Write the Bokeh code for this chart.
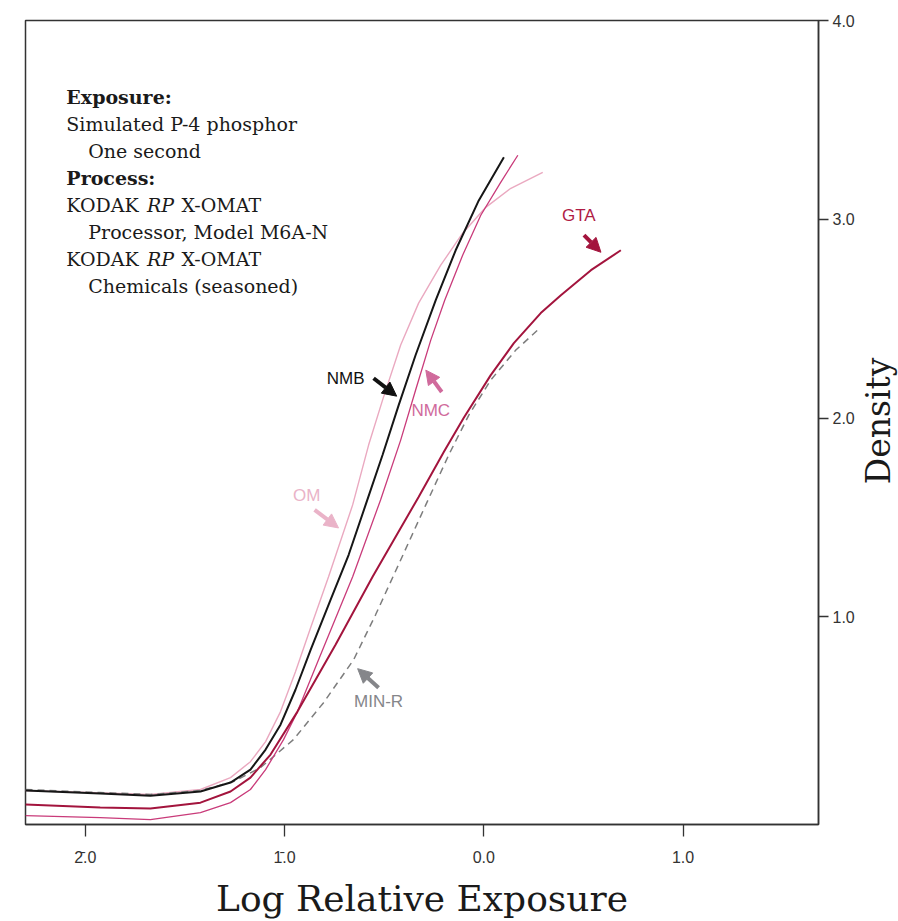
from bokeh.plotting import figure
from bokeh.layouts import row
from bokeh.models import Range1d, FixedTicker, Label, Arrow, NormalHead
from bokeh.embed import file_html
from bokeh.resources import INLINE

# ---- data (log relative exposure, density) ----
nmb_x = [-2.30, -1.925, -1.673, -1.422, -1.271, -1.171, -1.095, -1.020, -0.945, -0.869,
         -0.769, -0.678, -0.593, -0.508, -0.427, -0.342, -0.241, -0.141, -0.025, 0.101]
nmb_y = [0.126, 0.111, 0.100, 0.121, 0.166, 0.231, 0.332, 0.457, 0.633, 0.834,
         1.085, 1.312, 1.563, 1.814, 2.065, 2.317, 2.593, 2.844, 3.095, 3.312]

nmc_x = [-2.30, -1.925, -1.673, -1.422, -1.271, -1.171, -1.095, -1.005, -0.935, -0.819,
         -0.658, -0.518, -0.417, -0.342, -0.266, -0.196, -0.106, -0.015, 0.085, 0.171]
nmc_y = [0.000, -0.010, -0.020, 0.015, 0.065, 0.131, 0.231, 0.382, 0.523, 0.809,
         1.201, 1.588, 1.889, 2.141, 2.392, 2.593, 2.819, 3.020, 3.186, 3.322]

om_x = [-2.30, -1.673, -1.422, -1.271, -1.171, -1.095, -1.020, -0.945, -0.869, -0.779,
        -0.658, -0.578, -0.508, -0.417, -0.327, -0.216, -0.106, 0.010, 0.136, 0.296]
om_y = [0.126, 0.106, 0.131, 0.191, 0.271, 0.372, 0.523, 0.724, 0.945, 1.201,
        1.563, 1.864, 2.090, 2.367, 2.578, 2.769, 2.930, 3.060, 3.156, 3.236]

gta_x = [-2.30, -1.925, -1.673, -1.422, -1.271, -1.171, -1.070, -0.935, -0.744, -0.558,
         -0.327, -0.200, -0.101, 0.035, 0.151, 0.286, 0.387, 0.538, 0.688]
gta_y = [0.055, 0.040, 0.035, 0.065, 0.121, 0.191, 0.307, 0.523, 0.859, 1.201,
         1.603, 1.830, 2.000, 2.216, 2.377, 2.528, 2.618, 2.744, 2.844]

minr_x = [-2.30, -1.925, -1.673, -1.422, -1.256, -1.121, -0.955, -0.804, -0.653, -0.543,
          -0.417, -0.291, -0.176, -0.075, 0.035, 0.161, 0.286]
minr_y = [0.131, 0.116, 0.106, 0.126, 0.171, 0.241, 0.382, 0.568, 0.784, 1.010,
          1.286, 1.563, 1.814, 2.015, 2.191, 2.342, 2.457]

x_ticks = [-2, -1, 0, 1]
x_tick_labels = ["2\u0304.0", "1\u0304.0", "0.0", "1.0"]
y_ticks = [1, 2, 3, 4]
y_tick_labels = ["1.0", "2.0", "3.0", "4.0"]

info_lines = [
    ("Exposure:", "bold", 0),
    ("Simulated P-4 phosphor", "normal", 0),
    ("One second", "normal", 1),
    ("Process:", "bold", 0),
    (None, "normal", 0),
    ("Processor, Model M6A-N", "normal", 1),
    (None, "normal", 0),
    ("Chemicals (seasoned)", "normal", 1),
]

SERIF = "DejaVu Serif"
SANS = "Liberation Sans"
AXC = "#333333"

p = figure(width=858, height=921, output_backend="svg", toolbar_location=None,
           x_range=Range1d(-2.30, 1.68), y_range=Range1d(-0.045, 4.0),
           y_axis_location="right",
           min_border_left=25, min_border_top=20, min_border_right=40, min_border_bottom=96)
p.grid.visible = False
p.outline_line_color = AXC
p.outline_line_width = 1.5
p.background_fill_color = "white"
p.border_fill_color = "white"

# x axis
xa = p.xaxis[0]
xa.ticker = FixedTicker(ticks=x_ticks)
xa.major_label_overrides = {t: l for t, l in zip(x_ticks, x_tick_labels)}
xa.axis_line_color = AXC
xa.axis_line_width = 1.5
xa.major_tick_line_color = AXC
xa.major_tick_line_width = 1.3
xa.major_tick_in = 0
xa.major_tick_out = 12
xa.minor_tick_line_color = None
xa.major_label_text_font = SANS
xa.major_label_text_font_size = "16px"
xa.major_label_text_color = "#333333"
xa.major_label_standoff = 12
xa.axis_label = "Log Relative Exposure"
xa.axis_label_text_font = SERIF
xa.axis_label_text_font_size = "36px"
xa.axis_label_text_font_style = "normal"
xa.axis_label_text_color = "#1a1a1a"
xa.axis_label_standoff = 9

# y axis (right)
ya = p.yaxis[0]
ya.ticker = FixedTicker(ticks=y_ticks)
ya.major_label_overrides = {t: l for t, l in zip(y_ticks, y_tick_labels)}
ya.axis_line_color = AXC
ya.axis_line_width = 1.5
ya.major_tick_line_color = AXC
ya.major_tick_line_width = 1.3
ya.major_tick_in = 0
ya.major_tick_out = 10
ya.minor_tick_line_color = None
ya.major_label_text_font = SANS
ya.major_label_text_font_size = "16px"
ya.major_label_text_color = "#333333"
ya.major_label_standoff = 4

# curves
p.line(om_x, om_y, line_color="#eaa9c0", line_width=1.4)
p.line(minr_x, minr_y, line_color="#7d7d7d", line_width=1.5, line_dash="7 5")
p.line(nmc_x, nmc_y, line_color="#c93b7a", line_width=1.3)
p.line(gta_x, gta_y, line_color="#a3143d", line_width=2.0)
p.line(nmb_x, nmb_y, line_color="#161616", line_width=2.0)

# labels and arrows
def tag(x, y, txt, col):
    p.add_layout(Label(x=x, y=y, text=txt, text_font=SANS, text_font_size="17px",
                       text_color=col, text_align="center", text_baseline="middle"))

def arrow(x0, y0, x1, y1, col):
    p.add_layout(Arrow(x_start=x0, y_start=y0, x_end=x1, y_end=y1,
                       line_color=col, line_width=4,
                       end=NormalHead(size=14, fill_color=col, line_color=col)))

tag(0.477, 3.02, "GTA", "#b01c45")
arrow(0.503, 2.92, 0.588, 2.834, "#a3143d")
tag(-0.693, 2.20, "NMB", "#111111")
arrow(-0.553, 2.20, -0.437, 2.11, "#111111")
tag(-0.266, 2.04, "NMC", "#d06a9c")
arrow(-0.211, 2.131, -0.291, 2.241, "#d06a9c")
tag(-0.889, 1.608, "OM", "#eab3c8")
arrow(-0.849, 1.538, -0.729, 1.447, "#eab3c8")
tag(-0.528, 0.573, "MIN-R", "#85868a")
arrow(-0.528, 0.643, -0.633, 0.739, "#85868a")

# info text block
x0 = -2.095
indent = 0.11
y0 = 3.613
dy = 0.1357
for i, (txt, style, ind) in enumerate(info_lines):
    yy = y0 - i * dy
    if txt is None:
        parts = [("KODAK ", "normal", 0.0), ("RP", "italic", 0.405), ("X-OMAT", "normal", 0.578)]
        for t, st, off in parts:
            p.add_layout(Label(x=x0 + off, y=yy, text=t, text_font=SERIF,
                               text_font_size="19px", text_font_style=st,
                               text_color="#1a1a1a", text_baseline="middle"))
    else:
        p.add_layout(Label(x=x0 + ind * indent, y=yy, text=txt, text_font=SERIF,
                           text_font_size="19px", text_font_style=style,
                           text_color="#1a1a1a", text_baseline="middle"))

# side panel carrying the rotated "Density" axis title
p2 = figure(width=40, height=921, output_backend="svg", toolbar_location=None,
            x_range=Range1d(0, 1), y_range=Range1d(0, 1),
            min_border=0, min_border_left=0, min_border_right=0,
            min_border_top=0, min_border_bottom=0)
p2.axis.visible = False
p2.grid.visible = False
p2.outline_line_color = None
p2.background_fill_color = "white"
p2.border_fill_color = "white"
p2.add_layout(Label(x=0.5, y=0.502, text="Density", angle=1.5708,
                    text_font=SERIF, text_font_size="33px", text_color="#1a1a1a",
                    text_align="center", text_baseline="middle"))

open("out.html", "w").write(file_html(row(p, p2), INLINE))
